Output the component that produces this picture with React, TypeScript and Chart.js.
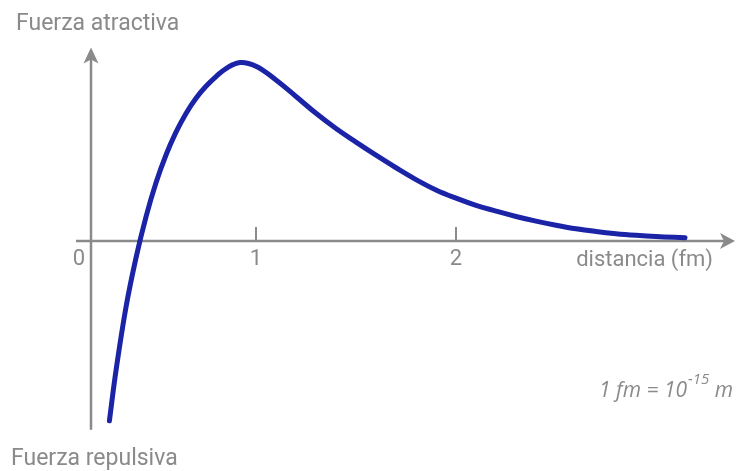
import React, { useEffect, useRef } from "react";
import { Chart, registerables } from "chart.js";

Chart.register(...registerables);

// distance (fm) and force (relative, attractive > 0)
const distance = [0.267, 0.30, 0.35, 0.40, 0.45, 0.50, 0.55, 0.60, 0.65, 0.70, 0.75, 0.80, 0.85, 0.92, 1.00, 1.10, 1.20, 1.30, 1.40, 1.50, 1.60, 1.70, 1.80, 1.90, 2.00, 2.10, 2.20, 2.30, 2.40, 2.50, 2.60, 2.70, 2.80, 2.90, 3.00, 3.145];
const force = [-1.004, -0.724, -0.369, -0.094, 0.135, 0.325, 0.48, 0.6075, 0.7125, 0.7975, 0.864, 0.918, 0.963, 0.997, 0.976, 0.899, 0.807, 0.713, 0.628, 0.552, 0.479, 0.409, 0.343, 0.285, 0.239, 0.199, 0.167, 0.137, 0.111, 0.088, 0.068, 0.053, 0.041, 0.032, 0.025, 0.018];

const tickValues = [1, 2];
const tickLabels = ["1", "2"];
const originLabel = "0";
const yAxisAt = 0.175;
const xAxisStart = 0.1;
const yAxisTop = 1.08;
const yAxisBottom = -1.054;

const xTitle = "distancia (fm)";
const topLabel = "Fuerza atractiva";
const bottomLabel = "Fuerza repulsiva";

const GRAY = "#8a8a8a";
const BLUE = "rgb(27,35,167)";
const FONT = "Roboto, 'DejaVu Sans', sans-serif";

const axesPlugin = {
  id: "customAxes",
  beforeDatasetsDraw(chart: any) {
    const { ctx, scales } = chart;
    const xs = scales.x;
    const ys = scales.y;
    const y0 = ys.getPixelForValue(0);
    const xa = xs.getPixelForValue(yAxisAt);
    const right = chart.width - 1;
    ctx.save();
    ctx.strokeStyle = GRAY;
    ctx.fillStyle = GRAY;
    ctx.lineWidth = 2.5;
    // x axis
    ctx.beginPath();
    ctx.moveTo(xs.getPixelForValue(xAxisStart), y0);
    ctx.lineTo(right - 8, y0);
    ctx.stroke();
    ctx.beginPath();
    ctx.moveTo(right, y0);
    ctx.lineTo(right - 15, y0 - 8);
    ctx.lineTo(right - 11, y0);
    ctx.lineTo(right - 15, y0 + 8);
    ctx.closePath();
    ctx.fill();
    // y axis
    const yt = ys.getPixelForValue(yAxisTop);
    ctx.beginPath();
    ctx.moveTo(xa, yt + 8);
    ctx.lineTo(xa, ys.getPixelForValue(yAxisBottom));
    ctx.stroke();
    ctx.beginPath();
    ctx.moveTo(xa, yt);
    ctx.lineTo(xa - 7.5, yt + 16);
    ctx.lineTo(xa, yt + 12);
    ctx.lineTo(xa + 7.5, yt + 16);
    ctx.closePath();
    ctx.fill();
    // ticks
    ctx.lineWidth = 2;
    ctx.font = `22px ${FONT}`;
    ctx.textAlign = "center";
    ctx.textBaseline = "alphabetic";
    tickValues.forEach((v, i) => {
      const px = xs.getPixelForValue(v);
      ctx.beginPath();
      ctx.moveTo(px, y0);
      ctx.lineTo(px, y0 - 14);
      ctx.stroke();
      ctx.fillText(tickLabels[i], px, y0 + 24);
    });
    ctx.fillText(originLabel, xa - 12, y0 + 24);
    ctx.textAlign = "right";
    ctx.fillText(xTitle, 713, y0 + 25);
    ctx.font = `23px ${FONT}`;
    ctx.textAlign = "left";
    ctx.fillText(topLabel, 16, 30);
    ctx.fillText(bottomLabel, 11, 465);
    // unit note
    const a = "1 fm = 10";
    const b = " m";
    const big = `italic 21px 'Open Sans', sans-serif`;
    const small = `italic 15px 'Open Sans', sans-serif`;
    ctx.font = big;
    const wa = ctx.measureText(a).width;
    const wb = ctx.measureText(b).width;
    ctx.font = small;
    const ws = ctx.measureText("-15").width;
    const endX = 733;
    const startX = endX - wa - ws - wb - 1;
    ctx.font = big;
    ctx.fillText(a, startX, 397);
    ctx.fillText(b, startX + wa + ws + 1, 397);
    ctx.font = small;
    ctx.fillText("-15", startX + wa + 1, 384);
    ctx.restore();
  },
};

export default function App() {
  const ref = useRef<HTMLCanvasElement>(null);
  useEffect(() => {
    if (!ref.current) return;
    const chart = new Chart(ref.current, {
      type: "line",
      data: {
        datasets: [
          {
            data: distance.map((d, i) => ({ x: d, y: force[i] })),
            borderColor: BLUE,
            borderWidth: 5,
            borderCapStyle: "round",
            borderJoinStyle: "round",
            pointRadius: 0,
            tension: 0.4,
            fill: false,
            clip: false as any,
          },
        ],
      },
      options: {
        animation: false,
        responsive: false,
        devicePixelRatio: 1,
        layout: { padding: { left: 56, right: 0, top: 44, bottom: 33 } },
        plugins: { legend: { display: false }, tooltip: { enabled: false } },
        scales: {
          x: { type: "linear", min: 0, max: 3.4, display: false },
          y: { type: "linear", min: -1.1, max: 1.1, display: false },
        },
      },
      plugins: [axesPlugin],
    });
    return () => chart.destroy();
  }, []);
  return (
    <div style={{ position: "absolute", left: 0, top: 0, width: 736, height: 471, background: "#fff" }}>
      <canvas ref={ref} width={736} height={471} />
    </div>
  );
}
